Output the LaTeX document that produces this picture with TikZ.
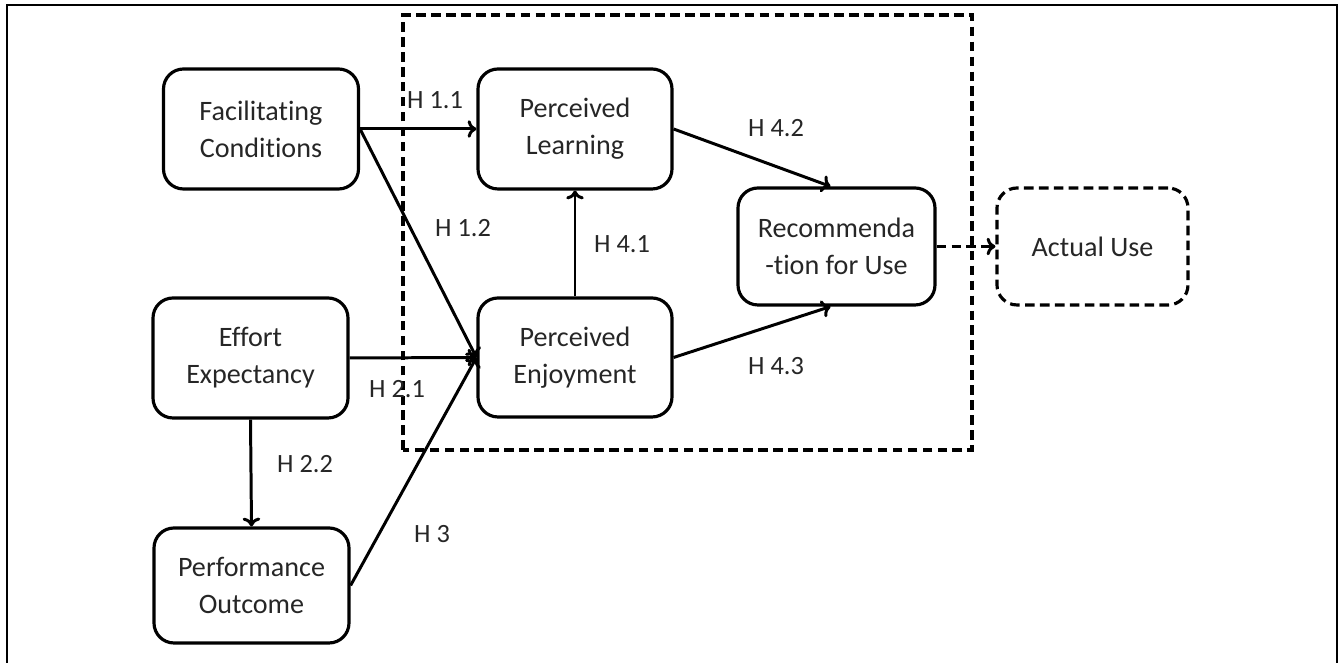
\documentclass[tikz,border=0pt]{standalone}
\usepackage{fontspec}
\setmainfont{Carlito}[Ligatures=NoCommon]
\usetikzlibrary{arrows.meta}

\tikzset{
	box/.style={draw, line width=1.8pt, rounded corners=0.4cm, align=center,
		minimum width=3.9cm, minimum height=2.4cm, inner sep=0pt,
		text=black!85, font=\fontsize{16}{21}\selectfont},
	hyp/.style={text=black!85, font=\fontsize{15}{18}\selectfont},
	link/.style={line width=1.7pt, -{To[length=5pt,width=10pt]}},
}

\begin{document}
\begin{tikzpicture}
			%%%%% START %%%%%
			\useasboundingbox (0, 0) rectangle (26.86, 13.26);
			
			% frame
			\draw[line width=1.4pt] (0.14, -0.2) -- (0.14, 13.16) -- (26.74, 13.16) -- (26.74, -0.2);
			
			% research model
			\draw[line width=2pt, dash pattern=on 5.5pt off 3pt] (8.06, 4.26) rectangle (19.44, 12.96);
			
			\node[box] (fc) at (5.22, 10.68) {Facilitating\\Conditions};
			\node[box] (ee) at (5.01, 6.10) {Effort\\Expectancy};
			\node[box, minimum height=2.3cm] (po) at (5.03, 1.55) {Performance\\Outcome};
			
			\node[box, minimum width=3.88cm] (pl) at (11.5, 10.68) {Perceived\\Learning};
			\node[box, minimum width=3.88cm, minimum height=2.38cm] (pe) at (11.5, 6.11) {Perceived\\Enjoyment};
			\node[box, minimum width=3.94cm, minimum height=2.34cm] (ru) at (16.73, 8.33) {Recommenda\\-tion for Use};
			\node[box, minimum width=3.82cm, minimum height=2.34cm, dash pattern=on 5.5pt off 3pt] (au) at (21.85, 8.33) {Actual Use};
			
			\draw[link] (fc.east) -- (pl.west);
			\draw[link] (fc.east) -- (pe.west);
			\draw[link] (ee.east) -- (pe.west);
			\draw[link] (ee.south) -- (po.north);
			\draw[link] (po.east) -- (pe.west);
			\draw[link] (pe.north) -- (pl.south);
			\draw[link] (pl.east) -- ([xshift=-0.12cm]ru.north);
			\draw[link] (pe.east) -- ([xshift=-0.12cm]ru.south);
			\draw[link, dash pattern=on 5.5pt off 3pt] (ru.east) -- (au.west);
			
			\node[hyp] (h11) at (8.7, 11.26) {H 1.1};
			\node[hyp] (h12) at (9.26, 8.7) {H 1.2};
			\node[hyp] (h21) at (7.94, 5.48) {H 2.1};
			\node[hyp] (h22) at (6.1, 3.98) {H 2.2};
			\node[hyp] (h3) at (8.64, 2.58) {H 3};
			\node[hyp] (h41) at (12.44, 8.38) {H 4.1};
			\node[hyp] (h42) at (15.52, 10.70) {H 4.2};
			\node[hyp] (h43) at (15.52, 5.94) {H 4.3};
			
			%%%%% END %%%%%
\end{tikzpicture}
\end{document}
